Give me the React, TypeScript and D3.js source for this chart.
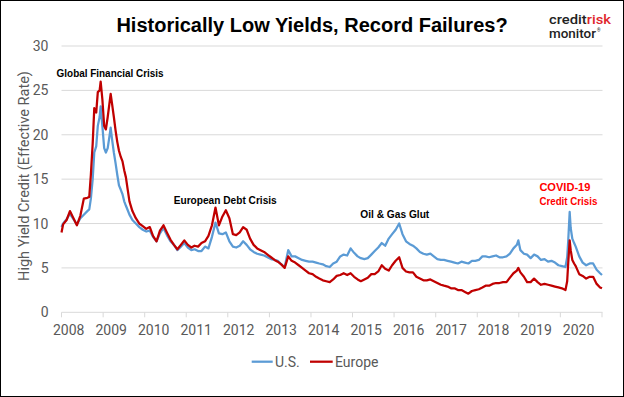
import React from "react";
import * as d3 from "d3";

const W = 624;
const H = 397;

// ---- data ----
const dates: string[] = [
  "2008-01-01","2008-01-15","2008-02-15","2008-03-15","2008-04-15","2008-05-15","2008-06-15","2008-07-15","2008-08-15","2008-09-01","2008-09-15","2008-10-01","2008-10-15","2008-11-01","2008-11-15","2008-12-01","2008-12-10","2008-12-25",
  "2009-01-10","2009-01-25","2009-02-10","2009-02-25","2009-03-08","2009-03-20","2009-04-05","2009-04-20","2009-05-05","2009-05-20","2009-06-05","2009-06-20","2009-07-05","2009-07-20","2009-08-05","2009-08-20","2009-09-15","2009-10-15","2009-11-15","2009-12-15",
  "2010-01-15","2010-02-15","2010-03-15","2010-04-15","2010-05-15","2010-06-15","2010-07-15","2010-08-15","2010-09-15","2010-10-15","2010-11-15","2010-12-15",
  "2011-01-15","2011-02-15","2011-03-15","2011-04-15","2011-05-15","2011-06-15","2011-07-15","2011-08-15","2011-09-15","2011-10-15","2011-11-15","2011-12-15",
  "2012-01-15","2012-02-15","2012-03-15","2012-04-15","2012-05-15","2012-06-15","2012-07-15","2012-08-15","2012-09-15","2012-10-15","2012-11-15","2012-12-15",
  "2013-01-15","2013-02-15","2013-03-15","2013-04-15","2013-05-15","2013-06-15","2013-07-15","2013-08-15","2013-09-15","2013-10-15","2013-11-15","2013-12-15",
  "2014-01-15","2014-02-15","2014-03-15","2014-04-15","2014-05-15","2014-06-15","2014-07-15","2014-08-15","2014-09-15","2014-10-15","2014-11-15","2014-12-15",
  "2015-01-15","2015-02-15","2015-03-15","2015-04-15","2015-05-15","2015-06-15","2015-07-15","2015-08-15","2015-09-15","2015-10-15","2015-11-15","2015-12-15",
  "2016-01-15","2016-02-15","2016-03-15","2016-04-15","2016-05-15","2016-06-15","2016-07-15","2016-08-15","2016-09-15","2016-10-15","2016-11-15","2016-12-15",
  "2017-01-15","2017-02-15","2017-03-15","2017-04-15","2017-05-15","2017-06-15","2017-07-15","2017-08-15","2017-09-15","2017-10-15","2017-11-15","2017-12-15",
  "2018-01-15","2018-02-15","2018-03-15","2018-04-15","2018-05-15","2018-06-15","2018-07-15","2018-08-15","2018-09-15","2018-10-15","2018-11-15","2018-12-15","2018-12-28",
  "2019-01-15","2019-02-15","2019-03-15","2019-04-15","2019-05-15","2019-06-15","2019-07-15","2019-08-15","2019-09-15","2019-10-15","2019-11-15","2019-12-15",
  "2020-01-15","2020-02-15","2020-03-01","2020-03-10","2020-03-23","2020-04-01","2020-04-15","2020-05-01","2020-05-15","2020-06-15","2020-07-15","2020-08-15","2020-09-15","2020-10-15","2020-11-15","2020-12-15","2021-01-01",
];

const usYield: number[] = [
  9.6,10.0,10.5,11.1,10.5,9.9,10.6,11.0,11.4,11.6,12.8,15.0,18.0,18.7,21.0,22.0,23.2,21.0,
  18.5,18.0,18.5,19.8,20.8,19.5,18.0,16.8,15.5,14.3,13.8,13.3,12.5,12.0,11.5,11.0,10.4,10.0,9.6,9.3,
  9.1,9.2,8.5,8.0,8.9,9.5,8.7,8.0,7.6,7.0,7.4,7.8,
  7.3,7.0,7.1,6.9,6.9,7.4,7.2,8.5,10.1,8.9,8.8,9.0,
  8.0,7.4,7.3,7.5,8.0,7.6,7.1,6.8,6.6,6.5,6.4,6.2,
  6.0,5.9,5.8,5.4,5.1,7.0,6.3,6.3,6.1,5.9,5.8,5.7,
  5.7,5.6,5.5,5.4,5.2,5.1,5.5,5.7,6.3,6.5,6.4,7.2,
  6.7,6.3,6.1,6.0,6.1,6.5,6.9,7.3,7.8,7.5,8.3,8.8,
  9.3,10.0,8.8,8.0,7.7,7.5,7.2,6.8,6.6,6.5,6.6,6.3,
  6.0,5.9,5.9,5.8,5.7,5.6,5.5,5.7,5.6,5.5,5.8,5.8,
  5.9,6.3,6.3,6.2,6.3,6.4,6.2,6.2,6.3,6.6,7.2,7.6,8.1,
  7.0,6.6,6.5,6.1,6.5,6.3,5.9,6.0,5.7,5.8,5.6,5.3,
  5.2,5.1,6.2,8.0,11.3,9.5,8.3,7.8,7.4,6.3,5.6,5.3,5.5,5.5,4.8,4.4,4.2,
];

const euroYield: number[] = [
  9.0,9.9,10.4,11.4,10.6,9.8,10.9,12.8,12.9,13.0,15.5,19.0,23.0,22.5,24.8,25.0,26.0,24.0,
  21.0,20.6,22.0,23.5,24.6,23.5,22.0,20.5,19.2,18.2,17.5,17.0,16.0,15.2,13.8,12.5,11.4,10.6,10.0,9.7,
  9.4,9.6,8.6,8.0,9.2,9.8,9.0,8.2,7.6,7.1,7.6,8.1,
  7.6,7.3,7.5,7.4,7.8,8.0,8.6,9.8,11.8,9.8,10.8,11.5,
  10.6,8.8,8.7,9.0,9.6,9.3,8.3,7.6,7.2,7.0,6.8,6.5,
  6.2,5.9,5.7,5.4,5.0,6.3,5.8,5.6,5.3,5.0,4.7,4.4,
  4.3,4.0,3.8,3.6,3.5,3.4,3.7,4.1,4.2,4.4,4.2,4.4,
  4.0,3.7,3.5,3.7,3.9,4.3,4.3,4.6,5.3,4.9,4.7,5.3,
  5.8,6.2,5.0,4.6,4.5,4.5,4.0,3.8,3.6,3.6,3.7,3.5,
  3.3,3.1,3.0,2.9,2.7,2.7,2.5,2.5,2.3,2.1,2.4,2.5,
  2.6,2.8,3.0,3.0,3.2,3.3,3.3,3.4,3.4,3.9,4.4,4.7,5.0,
  4.5,4.0,3.4,3.4,3.8,3.4,3.1,3.2,3.1,3.0,2.9,2.8,
  2.7,2.5,3.5,5.5,8.1,7.0,5.9,5.5,5.2,4.3,4.1,3.8,4.0,4.0,3.2,2.8,2.7,
];

const yearLabels: string[] = ["2008","2009","2010","2011","2012","2013","2014","2015","2016","2017","2018","2019","2020"];
const yTicks: number[] = [0, 5, 10, 15, 20, 25, 30];

const seriesNames = ["U.S.", "Europe"];
const seriesColors = ["#5B9BD5", "#C00000"];

const annotations = [
  { text: "Global Financial Crisis", x: "2007-11-19", y: 26.5, color: "#000", len: 107 },
  { text: "European Debt Crisis", x: "2010-09-13", y: 12.2, color: "#000", len: 103 },
  { text: "Oil & Gas Glut", x: "2015-03-10", y: 10.62, color: "#000", len: 69 },
  { text: "COVID-19", x: "2019-07-01", y: 13.72, color: "#FF0000", len: 51 },
  { text: "Credit Crisis", x: "2019-07-01", y: 12.05, color: "#FF0000", len: 58 },
];

const parse = d3.timeParse("%Y-%m-%d");

export default function App() {
  const x = d3
    .scaleTime()
    .domain([new Date(2008, 0, 1), new Date(2021, 0, 1)])
    .range([61.5, 602]);
  const y = d3.scaleLinear().domain([0, 30]).range([312.3, 46]);
  const labelX = d3.scalePoint<string>().domain(yearLabels).range([68.7, 578.6]);

  const parsed = dates.map((d) => parse(d) as Date);
  const series = [usYield, euroYield];
  const line = d3
    .line<number>()
    .x((_, i) => x(parsed[i]))
    .y((v) => y(v));

  const yearTicks = d3.timeYear.range(new Date(2008, 0, 1), new Date(2021, 0, 2));
  const tickFont = "Roboto, 'Noto Sans', sans-serif";

  return (
    <svg
      width={W}
      height={H}
      viewBox={`0 0 ${W} ${H}`}
      style={{ position: "absolute", left: 0, top: 0, background: "#fff" }}
    >
      <rect x={0} y={0} width={W} height={H} fill="#fff" />
      <rect x={0.5} y={0.5} width={W - 1} height={H - 1} fill="none" stroke="#000" strokeWidth={1} />

      {/* title */}
      <text
        x={312}
        y={32}
        textAnchor="middle"
        fontFamily="'Liberation Sans', Arial, sans-serif"
        fontWeight="bold"
        fontSize={20}
        fill="#000"
      >
        Historically Low Yields, Record Failures?
      </text>

      {/* logo */}
      <text
        x={549}
        y={24}
        fontFamily={tickFont}
        fontSize={13}
        fontWeight={500}
        fill="#222"
        textLength={62}
        lengthAdjust="spacingAndGlyphs"
      >
        credit<tspan fill="#E0262B">risk</tspan>
      </text>
      <text
        x={549}
        y={38}
        fontFamily={tickFont}
        fontSize={13}
        fontWeight={500}
        fill="#222"
        textLength={47}
        lengthAdjust="spacingAndGlyphs"
      >
        monitor
      </text>
      <text x={597} y={32} fontFamily={tickFont} fontSize={4.5} fill="#222">
        ®
      </text>

      {/* gridlines */}
      {yTicks.map((t) => (
        <line key={t} x1={61.5} x2={602.5} y1={y(t)} y2={y(t)} stroke="#D9D9D9" strokeWidth={1} />
      ))}
      {/* x tick marks */}
      {yearTicks.map((d, i) => (
        <line key={i} x1={x(d)} x2={x(d)} y1={y(0)} y2={y(0) + 5} stroke="#D9D9D9" strokeWidth={1} />
      ))}

      {/* y tick labels */}
      {yTicks.map((t) => (
        <text
          key={t}
          x={48.5}
          y={y(t) + 5}
          textAnchor="end"
          fontFamily={tickFont}
          fontSize={14}
          fill="#595959"
        >
          {t}
        </text>
      ))}

      {/* x labels */}
      {yearLabels.map((l) => (
        <text
          key={l}
          x={labelX(l)}
          y={335}
          textAnchor="middle"
          fontFamily={tickFont}
          fontSize={14}
          fill="#595959"
        >
          {l}
        </text>
      ))}

      {/* y axis title */}
      <text
        transform={`translate(29,176) rotate(-90)`}
        textAnchor="middle"
        fontFamily={tickFont}
        fontSize={14.5}
        fill="#595959"
      >
        High Yield Credit (Effective Rate)
      </text>

      {/* lines */}
      {series.map((s, k) => (
        <path
          key={k}
          d={line(s) || ""}
          fill="none"
          stroke={seriesColors[k]}
          strokeWidth={2.25}
          strokeLinejoin="round"
        />
      ))}

      {/* annotations */}
      {annotations.map((a) => (
        <text
          key={a.text}
          x={x(parse(a.x) as Date)}
          y={y(a.y)}
          fontFamily="'Liberation Sans', Arial, sans-serif"
          fontWeight="bold"
          fontSize={10.5}
          fill={a.color}
          textLength={a.len}
          lengthAdjust="spacingAndGlyphs"
        >
          {a.text}
        </text>
      ))}

      {/* legend */}
      <g fontFamily={tickFont} fontSize={14} fill="#595959">
        <line x1={251.7} x2={272.7} y1={361.7} y2={361.7} stroke={seriesColors[0]} strokeWidth={2.25} />
        <text x={275} y={366.7}>{seriesNames[0]}</text>
        <line x1={310} x2={332.7} y1={361.7} y2={361.7} stroke={seriesColors[1]} strokeWidth={2.25} />
        <text x={335} y={366.7}>{seriesNames[1]}</text>
      </g>
    </svg>
  );
}
